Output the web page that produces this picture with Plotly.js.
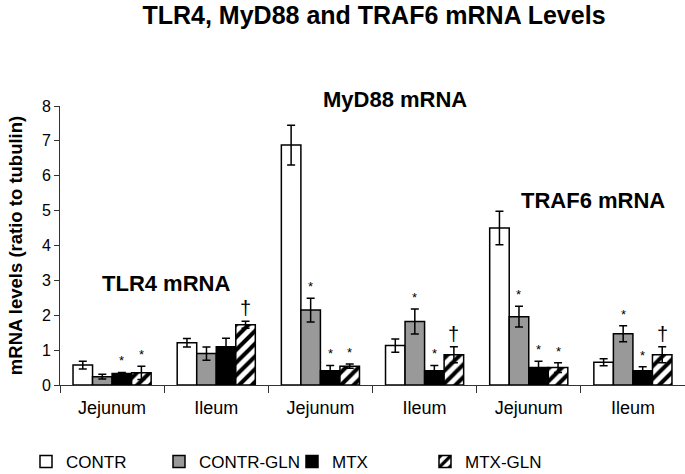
<!DOCTYPE html>
<html>
<head>
<meta charset="utf-8">
<script src="https://cdn.plot.ly/plotly-3.0.1.min.js"></script>
<style>
  html, body { margin: 0; padding: 0; background: #fff; }
  #chart { width: 685px; height: 474px; }
</style>
</head>
<body>
<div id="chart"></div>
<script>
// groups along the x axis (3 genes x 2 gut segments)
const groupLabels = ["Jejunum", "Ileum", "Jejunum", "Ileum", "Jejunum", "Ileum"];
const groupPos = [0, 1, 2, 3, 4, 5];

const seriesNames = ["CONTR", "CONTR-GLN", "MTX", "MTX-GLN"];

// mean mRNA levels (ratio to tubulin)
const contr    = [0.57, 1.21, 6.88, 1.13, 4.50, 0.65];
const contrGln = [0.24, 0.90, 2.15, 1.82, 1.96, 1.47];
const mtx      = [0.33, 1.10, 0.41, 0.41, 0.50, 0.41];
const mtxGln   = [0.35, 1.73, 0.54, 0.87, 0.50, 0.87];

// error bars
const contrErr    = [0.11, 0.12, 0.57, 0.19, 0.48, 0.10];
const contrGlnErr = [0.07, 0.19, 0.34, 0.36, 0.30, 0.23];
const mtxErr      = [0.03, 0.24, 0.15, 0.15, 0.18, 0.11];
const mtxGlnErr   = [0.19, 0.10, 0.06, 0.23, 0.14, 0.23];

// significance marks above each bar
const contrMark    = ["", "", "", "", "", ""];
const contrGlnMark = ["", "", "*", "*", "*", "*"];
const mtxMark      = ["*", "", "*", "*", "*", "*"];
const mtxGlnMark   = ["*", "\u2020", "*", "\u2020", "*", "\u2020"];

// gene panel labels
const geneLabels = ["TLR4 mRNA", "MyD88 mRNA", "TRAF6 mRNA"];
const geneLabelX = [0.52, 2.72, 4.62];
const geneLabelY = [2.92, 8.19, 5.30];

const FONT = "Liberation Sans, Arial, sans-serif";
const BARGAP = 0.25;
const YMAX = 8;
const M = { l: 60, r: 0, t: 106, b: 89, autoexpand: false };
const plotW = 685 - M.l - M.r;
const pxPerGroup = plotW / groupPos.length;
const barPx = (1 - BARGAP) / seriesNames.length * pxPerGroup;

const values = [contr, contrGln, mtx, mtxGln];
const errs = [contrErr, contrGlnErr, mtxErr, mtxGlnErr];
const marks = [contrMark, contrGlnMark, mtxMark, mtxGlnMark];

const styles = [
  { color: "#ffffff" },
  { color: "#999999" },
  { color: "#000000" },
  { color: "#ffffff", pattern: { shape: "/", fgcolor: "#000000", bgcolor: "#ffffff", size: 9, solidity: 0.45 } }
];

const traces = seriesNames.map((name, i) => ({
  type: "bar",
  name: name,
  x: groupPos,
  y: values[i],
  marker: Object.assign({ line: { color: "#000000", width: 1.5 } }, styles[i]),
  error_y: {
    type: "data",
    array: errs[i],
    visible: true,
    color: "#000000",
    thickness: 1.5,
    width: 4
  },
  hoverinfo: "y"
}));

const annotations = [];
marks.forEach((arr, i) => {
  arr.forEach((m, g) => {
    if (!m) return;
    const dagger = m === "\u2020";
    annotations.push({
      x: groupPos[g],
      y: values[i][g] + errs[i][g],
      xref: "x", yref: "y",
      text: m,
      showarrow: false,
      xshift: (i - 1.5) * barPx,
      yshift: dagger ? 0 : 2,
      xanchor: "center",
      yanchor: "bottom",
      font: { family: FONT, size: dagger ? 20 : 13, color: "#000000" }
    });
  });
});
geneLabels.forEach((t, k) => {
  annotations.push({
    x: geneLabelX[k],
    y: geneLabelY[k] / YMAX,
    xref: "x", yref: "paper",
    text: "<b>" + t + "</b>",
    showarrow: false,
    xanchor: "center",
    yanchor: "middle",
    font: { family: FONT, size: 22, color: "#000000" }
  });
});

const layout = {
  width: 685,
  height: 474,
  margin: M,
  barmode: "group",
  bargap: BARGAP,
  bargroupgap: 0,
  paper_bgcolor: "#ffffff",
  plot_bgcolor: "#ffffff",
  font: { family: FONT, color: "#000000", size: 16 },
  title: {
    text: "<b>TLR4, MyD88 and TRAF6 mRNA Levels</b>",
    font: { family: FONT, size: 25, color: "#000000" },
    x: 0.546,
    xanchor: "center",
    y: 0.968,
    yanchor: "middle"
  },
  xaxis: {
    range: [-0.5, 5.5],
    tickvals: groupPos,
    ticktext: groupLabels,
    ticks: "",
    ticklabelstandoff: 6,
    tickfont: { family: FONT, size: 18 },
    showline: true,
    linecolor: "#333333",
    linewidth: 1,
    showgrid: false,
    zeroline: false,
    automargin: false,
    minor: { tick0: 0.5, dtick: 1, ticks: "outside", ticklen: 7, tickcolor: "#333333", showgrid: false },
    fixedrange: true
  },
  yaxis: {
    range: [0, YMAX],
    dtick: 1,
    ticks: "outside",
    ticklen: 5,
    tickcolor: "#333333",
    tickfont: { family: FONT, size: 16 },
    showline: true,
    linecolor: "#333333",
    linewidth: 1,
    showgrid: false,
    zeroline: false,
    automargin: false,
    title: {
      text: "<b>mRNA levels (ratio to tubulin)</b>",
      font: { family: FONT, size: 18.5 },
      standoff: 14
    },
    fixedrange: true
  },
  legend: {
    orientation: "h",
    x: (26 - M.l) / plotW,
    xanchor: "left",
    y: -0.276,
    yanchor: "middle",
    entrywidth: 88,
    entrywidthmode: "pixels",
    font: { family: FONT, size: 17 },
    traceorder: "normal",
    itemclick: false
  },
  annotations: annotations,
  showlegend: true
};

Plotly.newPlot("chart", traces, layout, { displayModeBar: false, staticPlot: true });
</script>
</body>
</html>
